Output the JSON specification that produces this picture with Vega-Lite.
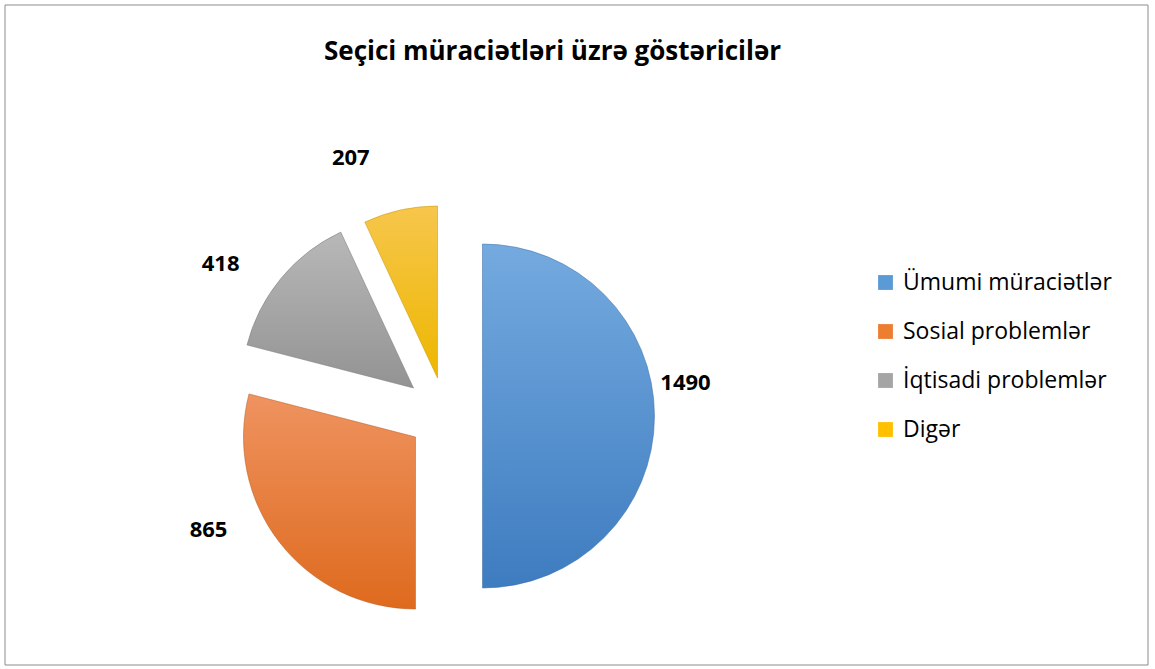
{
  "$schema": "https://vega.github.io/schema/vega-lite/v6.json",
  "width": 1143,
  "height": 660,
  "autosize": "none",
  "padding": {"left": 5, "top": 5, "right": 7, "bottom": 4},
  "background": "white",
  "config": {
    "view": {"stroke": null},
    "font": "Open Sans"
  },
  "title": {
    "text": "Seçici müraciətləri üzrə göstəricilər",
    "font": "Open Sans",
    "fontSize": 26,
    "fontWeight": "bold",
    "color": "#000000",
    "anchor": "middle",
    "dx": -24,
    "offset": -60
  },
  "data": {
    "values": [
      {"k": "Ümumi müraciətlər", "v": 1490, "o": 1},
      {"k": "Sosial problemlər", "v": 865, "o": 2},
      {"k": "İqtisadi problemlər", "v": 418, "o": 3},
      {"k": "Digər", "v": 207, "o": 4}
    ]
  },
  "transform": [
    {"stack": "v", "groupby": [], "sort": [{"field": "o"}], "as": ["start", "end"]},
    {"calculate": "(datum.start + datum.end) / 2", "as": "mid"}
  ],
  "layer": [
    {
      "transform": [{"filter": "datum.o == 1"}],
      "mark": {"type": "rect", "fill": null, "stroke": "#8c8c8c", "strokeWidth": 1},
      "encoding": {}
    },
    {
      "mark": {"type": "arc", "outerRadius": 172, "opacity": 0},
      "encoding": {
        "theta": {"field": "start", "type": "quantitative", "scale": {"domain": [0, 2980]}},
        "theta2": {"field": "end"},
        "color": {
          "field": "k",
          "type": "nominal",
          "sort": ["Ümumi müraciətlər", "Sosial problemlər", "İqtisadi problemlər", "Digər"],
          "scale": {
            "domain": ["Ümumi müraciətlər", "Sosial problemlər", "İqtisadi problemlər", "Digər"],
            "range": ["#5B9BD5", "#ED7D31", "#A5A5A5", "#FFC000"]
          },
          "legend": {
            "title": null,
            "orient": "none",
            "legendX": 869,
            "legendY": 266,
            "symbolType": "square",
            "symbolSize": 220,
            "symbolOpacity": 1,
            "symbolStrokeWidth": 0,
            "labelFont": "Open Sans",
            "labelFontSize": 23,
            "labelColor": "#000000",
            "labelOffset": 6,
            "rowPadding": 25,
            "labelLimit": 400
          }
        }
      }
    },
    {
      "transform": [{"filter": "datum.o == 1"}],
      "mark": {
        "type": "arc", "outerRadius": 172, "xOffset": -94, "yOffset": 81,
        "fill": {"gradient": "linear", "x1": 0, "y1": 0, "x2": 0, "y2": 1,
          "stops": [{"offset": 0, "color": "#74AADF"}, {"offset": 1, "color": "#3E7CC0"}]},
        "stroke": "#3569a3", "strokeWidth": 0.5
      },
      "encoding": {
        "theta": {"field": "start", "type": "quantitative", "scale": {"domain": [0, 2980]}},
        "theta2": {"field": "end"}
      }
    },
    {
      "transform": [{"filter": "datum.o == 2"}],
      "mark": {
        "type": "arc", "outerRadius": 172, "xOffset": -161, "yOffset": 102,
        "fill": {"gradient": "linear", "x1": 0, "y1": 0, "x2": 0, "y2": 1,
          "stops": [{"offset": 0, "color": "#EF9360"}, {"offset": 1, "color": "#DE6A1E"}]},
        "stroke": "#b5581c", "strokeWidth": 0.5
      },
      "encoding": {
        "theta": {"field": "start", "type": "quantitative", "scale": {"domain": [0, 2980]}},
        "theta2": {"field": "end"}
      }
    },
    {
      "transform": [{"filter": "datum.o == 3"}],
      "mark": {
        "type": "arc", "outerRadius": 172, "xOffset": -163, "yOffset": 53,
        "fill": {"gradient": "linear", "x1": 0, "y1": 0, "x2": 0, "y2": 1,
          "stops": [{"offset": 0, "color": "#B8B8B8"}, {"offset": 1, "color": "#939393"}]},
        "stroke": "#777777", "strokeWidth": 0.5
      },
      "encoding": {
        "theta": {"field": "start", "type": "quantitative", "scale": {"domain": [0, 2980]}},
        "theta2": {"field": "end"}
      }
    },
    {
      "transform": [{"filter": "datum.o == 4"}],
      "mark": {
        "type": "arc", "outerRadius": 172, "xOffset": -139, "yOffset": 43,
        "fill": {"gradient": "linear", "x1": 0, "y1": 0, "x2": 0, "y2": 1,
          "stops": [{"offset": 0, "color": "#F7C64C"}, {"offset": 1, "color": "#EDB700"}]},
        "stroke": "#c29400", "strokeWidth": 0.5
      },
      "encoding": {
        "theta": {"field": "start", "type": "quantitative", "scale": {"domain": [0, 2980]}},
        "theta2": {"field": "end"}
      }
    },
    {
      "transform": [{"filter": "datum.o == 1"}],
      "mark": {"type": "text", "radius": 203, "xOffset": -94, "yOffset": 81, "dy": -33, "fontSize": 22, "fontWeight": "bold", "font": "Open Sans", "color": "#000000"},
      "encoding": {
        "theta": {"field": "mid", "type": "quantitative", "scale": {"domain": [0, 2980]}},
        "text": {"field": "v", "type": "quantitative"}
      }
    },
    {
      "transform": [{"filter": "datum.o == 2"}],
      "mark": {"type": "text", "radius": 220, "xOffset": -161, "yOffset": 102, "dx": -33, "dy": -42, "fontSize": 22, "fontWeight": "bold", "font": "Open Sans", "color": "#000000"},
      "encoding": {
        "theta": {"field": "mid", "type": "quantitative", "scale": {"domain": [0, 2980]}},
        "text": {"field": "v", "type": "quantitative"}
      }
    },
    {
      "transform": [{"filter": "datum.o == 3"}],
      "mark": {"type": "text", "radius": 230, "xOffset": -163, "yOffset": 53, "dx": -16, "dy": 23, "fontSize": 22, "fontWeight": "bold", "font": "Open Sans", "color": "#000000"},
      "encoding": {
        "theta": {"field": "mid", "type": "quantitative", "scale": {"domain": [0, 2980]}},
        "text": {"field": "v", "type": "quantitative"}
      }
    },
    {
      "transform": [{"filter": "datum.o == 4"}],
      "mark": {"type": "text", "radius": 225, "xOffset": -139, "yOffset": 43, "dx": -38, "fontSize": 22, "fontWeight": "bold", "font": "Open Sans", "color": "#000000"},
      "encoding": {
        "theta": {"field": "mid", "type": "quantitative", "scale": {"domain": [0, 2980]}},
        "text": {"field": "v", "type": "quantitative"}
      }
    }
  ]
}
